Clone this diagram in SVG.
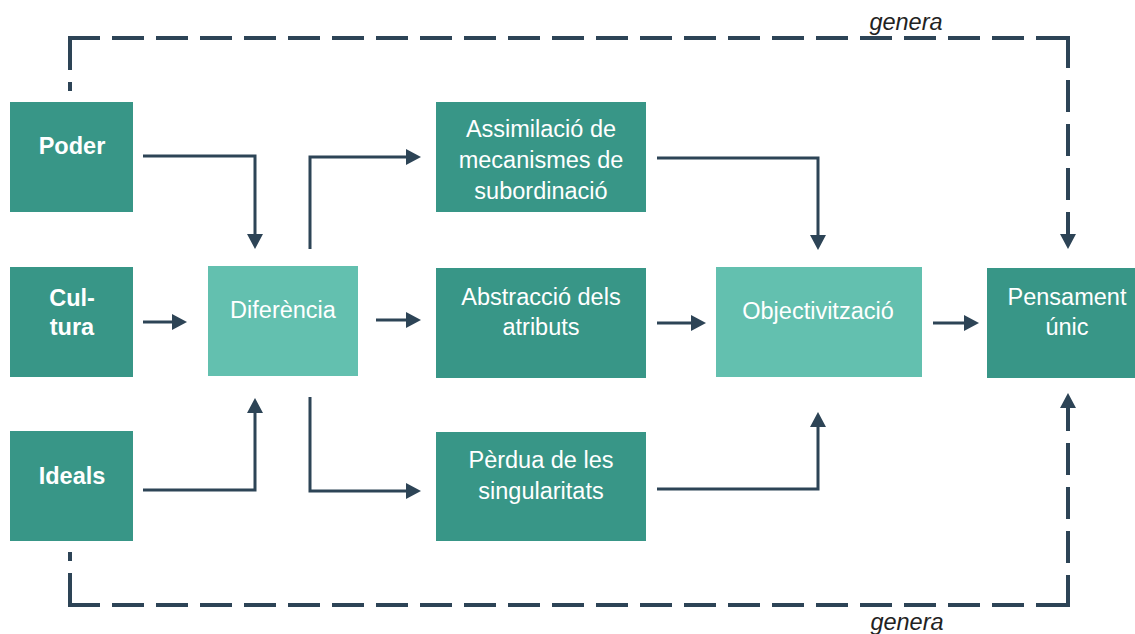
<svg xmlns="http://www.w3.org/2000/svg" width="1135" height="634" viewBox="0 0 1135 634">
<style>
.dark{fill:#389687}
.light{fill:#63C0AF}
.t{font-family:"Liberation Sans",Arial,sans-serif;font-size:23.5px;fill:#ffffff;text-anchor:middle}
.b{font-weight:bold}
.lbl{font-family:"Liberation Sans",Arial,sans-serif;font-size:23.5px;font-style:italic;fill:#222222;text-anchor:middle}
.c{fill:none;stroke:#2D4456;stroke-width:3}
.d{fill:none;stroke:#2D4456;stroke-width:4;stroke-dasharray:32 12}
</style>
<defs>
<marker id="ah" markerUnits="userSpaceOnUse" markerWidth="16" markerHeight="16" refX="3" refY="8" orient="auto">
<path d="M0,0 L15,8 L0,16 z" fill="#2D4456"/>
</marker>
</defs>
<rect width="1135" height="634" fill="#ffffff"/>
<g id="connectors">
<path class="c" d="M143,156 H255 V237" marker-end="url(#ah)"/>
<path class="c" d="M143,322 H175" marker-end="url(#ah)"/>
<path class="c" d="M143,490 H255 V410" marker-end="url(#ah)"/>
<path class="c" d="M310,249 V157 H409" marker-end="url(#ah)"/>
<path class="c" d="M376,320 H409" marker-end="url(#ah)"/>
<path class="c" d="M310,397 V491 H409" marker-end="url(#ah)"/>
<path class="c" d="M657,158 H818 V238" marker-end="url(#ah)"/>
<path class="c" d="M657,323 H694" marker-end="url(#ah)"/>
<path class="c" d="M657,489 H818 V424" marker-end="url(#ah)"/>
<path class="c" d="M933,323 H967" marker-end="url(#ah)"/>
<path class="d" d="M70,38 V91"/>
<path class="d" d="M68,38 H1070"/>
<path class="d" d="M1068,36 V237" marker-end="url(#ah)"/>
<path class="d" d="M70,605 V552"/>
<path class="d" d="M68,605 H1070"/>
<path class="d" d="M1068,607 V405" marker-end="url(#ah)"/>
<text class="lbl" x="906" y="30">genera</text>
<text class="lbl" x="907" y="630">genera</text>
</g>
<g id="poder">
<rect class="dark" x="10" y="102" width="123" height="110"/>
<text class="t b" x="72" y="154">Poder</text>
</g>
<g id="cultura">
<rect class="dark" x="10" y="267" width="123" height="110"/>
<text class="t b" x="72" y="306">Cul-</text>
<text class="t b" x="72" y="335">tura</text>
</g>
<g id="ideals">
<rect class="dark" x="10" y="431" width="123" height="110"/>
<text class="t b" x="72" y="484">Ideals</text>
</g>
<g id="diferencia">
<rect class="light" x="208" y="266" width="150" height="110"/>
<text class="t" x="283" y="318">Diferència</text>
</g>
<g id="assimilacio">
<rect class="dark" x="436" y="102" width="210" height="110"/>
<text class="t" x="541" y="137">Assimilació de</text>
<text class="t" x="541" y="168">mecanismes de</text>
<text class="t" x="541" y="199">subordinació</text>
</g>
<g id="abstraccio">
<rect class="dark" x="436" y="268" width="210" height="110"/>
<text class="t" x="541" y="305">Abstracció dels</text>
<text class="t" x="541" y="335">atributs</text>
</g>
<g id="perdua">
<rect class="dark" x="436" y="432" width="210" height="109"/>
<text class="t" x="541" y="468">Pèrdua de les</text>
<text class="t" x="541" y="499">singularitats</text>
</g>
<g id="objectivitzacio">
<rect class="light" x="716" y="267" width="206" height="110"/>
<text class="t" x="818" y="319">Objectivització</text>
</g>
<g id="pensament">
<rect class="dark" x="987" y="268" width="160" height="110"/>
<text class="t" x="1067" y="305">Pensament</text>
<text class="t" x="1067" y="335">únic</text>
</g>
</svg>
